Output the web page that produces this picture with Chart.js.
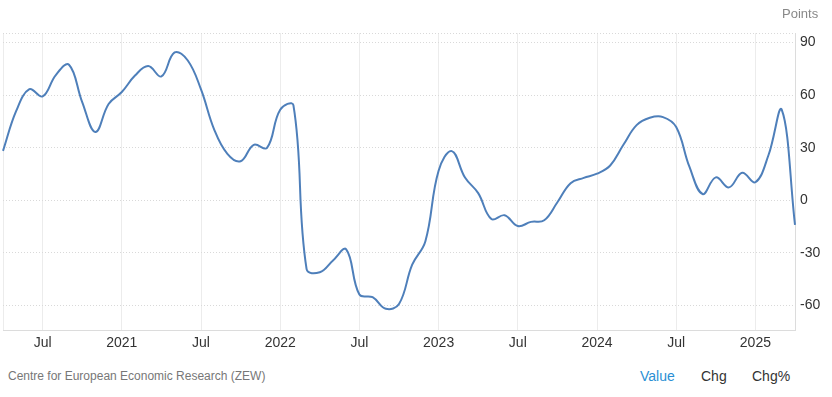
<!DOCTYPE html>
<html>
<head>
<meta charset="utf-8">
<script src="https://cdn.jsdelivr.net/npm/chart.js@4.4.1/dist/chart.umd.min.js"></script>
<style>
  body { margin: 0; background: #fff; font-family: "Liberation Sans", Arial, sans-serif; }
  #wrap { position: relative; width: 832px; height: 397px; }
  #box { position: absolute; left: 0; top: 0; width: 832px; height: 360px; }
  .txt { position: absolute; white-space: nowrap; }
</style>
</head>
<body>
<div id="wrap">
  <div id="box"><canvas id="zew"></canvas></div>
  <div class="txt" style="left:782px; top:6px; font-size:13px; color:#888;">Points</div>
  <div class="txt" style="left:8px; top:369px; font-size:12px; color:#777;">Centre for European Economic Research (ZEW)</div>
  <div class="txt" style="left:640px; top:368px; font-size:14px; color:#2a8fd4;">Value</div>
  <div class="txt" style="left:701px; top:368px; font-size:14px; color:#333;">Chg</div>
  <div class="txt" style="left:752px; top:368px; font-size:14px; color:#333;">Chg%</div>
</div>
<script>
// monthly, Apr 2020 .. Apr 2025
const months = [
  '2020-04','2020-05','2020-06','2020-07','2020-08','2020-09','2020-10','2020-11','2020-12',
  '2021-01','2021-02','2021-03','2021-04','2021-05','2021-06','2021-07','2021-08','2021-09','2021-10','2021-11','2021-12',
  '2022-01','2022-02','2022-03','2022-04','2022-05','2022-06','2022-07','2022-08','2022-09','2022-10','2022-11','2022-12',
  '2023-01','2023-02','2023-03','2023-04','2023-05','2023-06','2023-07','2023-08','2023-09','2023-10','2023-11','2023-12',
  '2024-01','2024-02','2024-03','2024-04','2024-05','2024-06','2024-07','2024-08','2024-09','2024-10','2024-11','2024-12',
  '2025-01','2025-02','2025-03','2025-04'
];
const sentiment = [
  28.2, 51.0, 63.4, 59.3, 71.5, 77.4, 56.1, 39.0, 55.0,
  61.8, 71.2, 76.6, 70.7, 84.4, 79.8, 63.3, 40.4, 26.5, 22.3, 31.7, 29.9,
  51.7, 54.3, -39.3, -41.0, -34.3, -28.0, -53.8, -55.3, -61.9, -59.2, -36.7, -23.3,
  16.9, 28.1, 13.0, 4.1, -10.7, -8.5, -14.7, -12.3, -11.4, -1.1, 9.8, 12.8,
  15.2, 19.9, 31.7, 42.9, 47.1, 47.5, 41.8, 19.2, 3.6, 13.1, 7.4, 15.7,
  10.3, 26.0, 51.6, -14.0
];
const yTicks = [-60, -30, 0, 30, 60, 90];
const monthNames = ['Jan','Feb','Mar','Apr','May','Jun','Jul','Aug','Sep','Oct','Nov','Dec'];

const ctx = document.getElementById('zew');
const chart = new Chart(ctx, {
  type: 'line',
  data: {
    labels: months,
    datasets: [{
      data: sentiment,
      borderColor: '#4e7fba',
      borderWidth: 2,
      pointRadius: 0,
      tension: 0.4,
      fill: false
    }]
  },
  options: {
    responsive: true,
    maintainAspectRatio: false,
    animation: false,
    layout: { autoPadding: false, padding: { left: 3, top: 33, right: 0, bottom: 0 } },
    plugins: { legend: { display: false }, tooltip: { enabled: false } },
    scales: {
      x: {
        type: 'category',
        offset: false,
        grid: { color: '#ececec', drawTicks: false },
        border: { display: true, color: '#dcdcdc' },
        afterBuildTicks: (scale) => {
          scale.ticks = scale.ticks.filter(t => {
            const m = months[t.value].slice(5);
            return t.value === 0 || m === '01' || m === '07';
          });
        },
        afterFit: (scale) => {
          scale.height = 30;
          scale.paddingLeft = 0;
          scale.paddingRight = 0;
        },
        ticks: {
          autoSkip: false,
          maxRotation: 0,
          padding: 5,
          color: '#333',
          font: { family: '"Liberation Sans", Arial, sans-serif', size: 14 },
          callback: function (value) {
            if (value === 0) return '';
            const [y, m] = months[value].split('-');
            return m === '01' ? y : monthNames[+m - 1];
          }
        }
      },
      y: {
        position: 'right',
        min: -74,
        max: 95.5,
        grid: { color: '#d9d9d9', drawTicks: false },
        border: { display: true, color: '#dcdcdc', dash: [1, 2] },
        afterBuildTicks: (scale) => {
          scale.ticks = yTicks.concat([95.5]).map(v => ({ value: v }));
        },
        afterFit: (scale) => { scale.width = 37; },
        ticks: {
          padding: 5,
          color: '#333',
          font: { family: '"Liberation Sans", Arial, sans-serif', size: 14 },
          callback: (v) => yTicks.includes(v) ? String(v) : ''
        }
      }
    }
  }
});
</script>
</body>
</html>
